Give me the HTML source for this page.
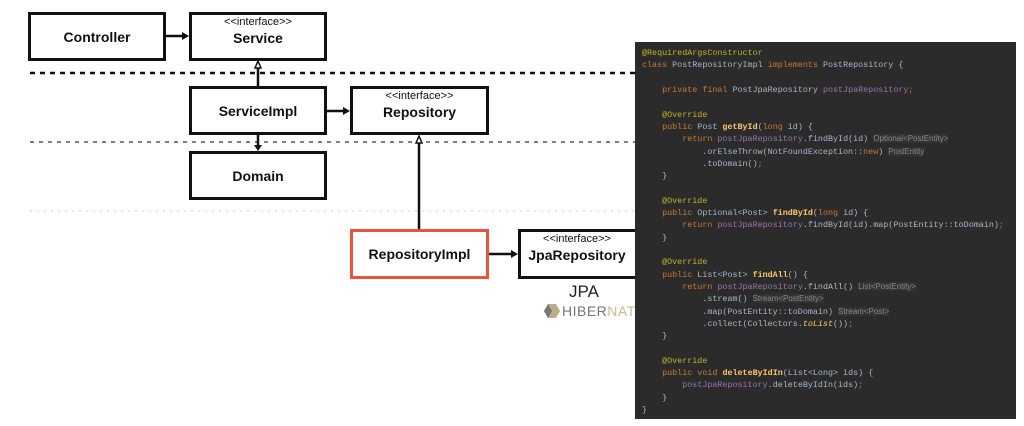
<!DOCTYPE html>
<html><head><meta charset="utf-8"><style>
html,body{margin:0;padding:0;background:#fff;width:1024px;height:426px;overflow:hidden;position:relative;font-family:"Liberation Sans",sans-serif}
.b{position:absolute;border:3px solid #111;box-sizing:border-box;background:#fff;text-align:center;font-weight:bold;font-size:14px;color:#111}
.b .i{font-weight:normal;font-size:11px;position:absolute;top:1px;left:0;right:0}
.b .n{position:absolute;left:0;right:0;top:15px}
.b .c{position:absolute;left:0;right:0;top:14px}
#code{position:absolute;left:635px;top:42px;width:381px;height:377px;background:#2b2b2b;overflow:hidden}
#code pre{margin:0;position:absolute;left:7px;top:5px;font-family:"Liberation Mono",monospace;font-size:8.4px;line-height:12.31px;color:#a9b7c6;white-space:pre}
.k{color:#cc7832}.a{color:#bbb529}.f{color:#ffc66d;font-weight:bold}.p{color:#9876aa}.h{color:#8a8a8a;background:#333;font-family:"Liberation Sans",sans-serif;font-size:8px}.it{font-style:italic;color:#ffc66d}
</style></head><body>
<svg width="1024" height="426" style="position:absolute;left:0;top:0">
<line x1="30" y1="73" x2="635" y2="73" stroke="#111" stroke-width="2.5" stroke-dasharray="5,5"/>
<line x1="30" y1="142" x2="635" y2="142" stroke="#333" stroke-width="1.3" stroke-dasharray="4,5"/>
<line x1="30" y1="211" x2="635" y2="211" stroke="#ccc" stroke-width="1" stroke-dasharray="2,5"/>
<g stroke="#111" stroke-width="2.5" fill="#111">
<line x1="166" y1="36" x2="182" y2="36"/><polygon points="182,32 189,36 182,40" stroke="none"/>
<line x1="327" y1="111" x2="343" y2="111"/><polygon points="343,107 350,111 343,115" stroke="none"/>
<line x1="258" y1="134" x2="258" y2="145"/><polygon points="254,145 258,151 262,145" stroke="none"/>
<line x1="489" y1="254" x2="511" y2="254"/><polygon points="511,250 518,254 511,258" stroke="none"/>
<line x1="258" y1="86" x2="258" y2="68"/>
<line x1="419" y1="230" x2="419" y2="143"/>
</g>
<polygon points="258,61 255,68 261,68" fill="#fff" stroke="#111" stroke-width="1.5"/>
<polygon points="419,136 416,143 422,143" fill="#fff" stroke="#111" stroke-width="1.5"/>
<g transform="translate(544,304)"><polygon points="4,0 12,0 16,7 12,14 4,14 0,7" fill="#b9ad8c"/><polygon points="0,7 4,0 8,7 4,14" fill="#777"/></g>
<text x="562" y="316" font-family="Liberation Sans" font-size="14" fill="#777" letter-spacing="0.5">HIBER<tspan fill="#c9b98f">NATE</tspan></text>
<text x="569" y="297" font-family="Liberation Sans" font-size="17" fill="#222">JPA</text>
</svg>
<div class="b" style="left:28px;top:12px;width:138px;height:49px"><div class="c">Controller</div></div>
<div class="b" style="left:189px;top:12px;width:138px;height:49px"><div class="i">&lt;&lt;interface&gt;&gt;</div><div class="n">Service</div></div>
<div class="b" style="left:189px;top:86px;width:138px;height:49px"><div class="c">ServiceImpl</div></div>
<div class="b" style="left:350px;top:86px;width:139px;height:49px"><div class="i">&lt;&lt;interface&gt;&gt;</div><div class="n">Repository</div></div>
<div class="b" style="left:189px;top:151px;width:138px;height:49px"><div class="c">Domain</div></div>
<div class="b" style="left:350px;top:229px;width:139px;height:50px;border-color:#e8553a"><div class="c">RepositoryImpl</div></div>
<div class="b" style="left:518px;top:229px;width:140px;height:50px"><div class="i" style="right:22px">&lt;&lt;interface&gt;&gt;</div><div class="n" style="right:22px">JpaRepository</div></div>
<div id="code"><pre><span class="a">@RequiredArgsConstructor</span>
<span class="k">class</span> PostRepositoryImpl <span class="k">implements</span> PostRepository {

    <span class="k">private final</span> PostJpaRepository <span class="p">postJpaRepository</span><span class="k">;</span>

    <span class="a">@Override</span>
    <span class="k">public</span> Post <span class="f">getById</span>(<span class="k">long</span> id) {
        <span class="k">return</span> <span class="p">postJpaRepository</span>.findById(id) <span class="h">Optional&lt;PostEntity&gt;</span>
            .orElseThrow(NotFoundException::<span class="k">new</span>) <span class="h">PostEntity</span>
            .toDomain()<span class="k">;</span>
    }

    <span class="a">@Override</span>
    <span class="k">public</span> Optional&lt;Post&gt; <span class="f">findById</span>(<span class="k">long</span> id) {
        <span class="k">return</span> <span class="p">postJpaRepository</span>.findById(id).map(PostEntity::toDomain)<span class="k">;</span>
    }

    <span class="a">@Override</span>
    <span class="k">public</span> List&lt;Post&gt; <span class="f">findAll</span>() {
        <span class="k">return</span> <span class="p">postJpaRepository</span>.findAll() <span class="h">List&lt;PostEntity&gt;</span>
            .stream() <span class="h">Stream&lt;PostEntity&gt;</span>
            .map(PostEntity::toDomain) <span class="h">Stream&lt;Post&gt;</span>
            .collect(Collectors.<span class="it">toList</span>())<span class="k">;</span>
    }

    <span class="a">@Override</span>
    <span class="k">public void</span> <span class="f">deleteByIdIn</span>(List&lt;Long&gt; ids) {
        <span class="p">postJpaRepository</span>.deleteByIdIn(ids)<span class="k">;</span>
    }
}</pre></div>
</body></html>
